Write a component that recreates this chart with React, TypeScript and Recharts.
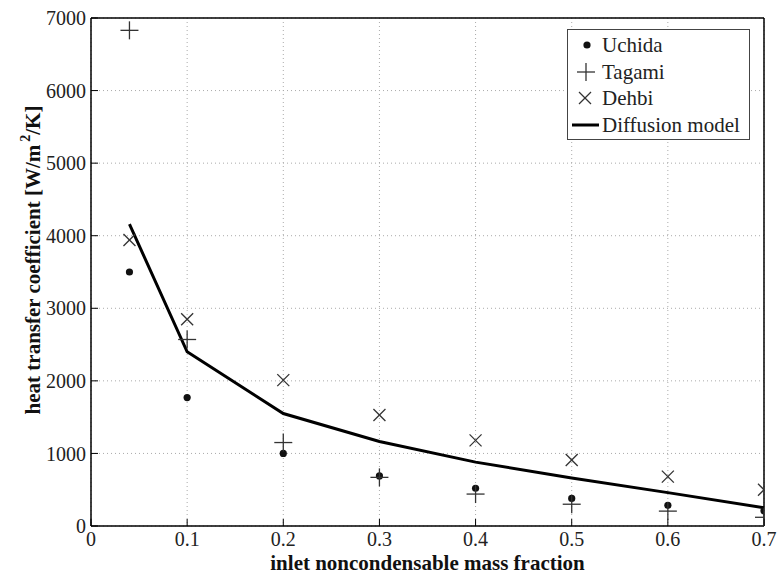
import React from 'react';
import { ScatterChart, Scatter, XAxis, YAxis, CartesianGrid, Legend, Label } from 'recharts';

const xValues = [0.04, 0.1, 0.2, 0.3, 0.4, 0.5, 0.6, 0.7];
const uchidaY = [3500, 1770, 1000, 690, 520, 380, 285, 210];
const tagamiY = [6830, 2570, 1150, 670, 440, 300, 205, 120];
const dehbiY = [3940, 2850, 2010, 1530, 1180, 910, 680, 500];
const modelY = [4160, 2400, 1550, 1165, 880, 660, 460, 250];

const xTicks = [0, 0.1, 0.2, 0.3, 0.4, 0.5, 0.6, 0.7];
const yTicks = [0, 1000, 2000, 3000, 4000, 5000, 6000, 7000];

const seriesNames = ['Uchida', 'Tagami', 'Dehbi', 'Diffusion model'];

const toPoints = (ys: number[]) => xValues.map((x, i) => ({ x, y: ys[i] }));
const uchidaData = toPoints(uchidaY);
const tagamiData = toPoints(tagamiY);
const dehbiData = toPoints(dehbiY);
const modelData = toPoints(modelY);

const FONT = '"Liberation Serif", "Times New Roman", serif';

const Dot = (p: any) => <circle cx={p.cx} cy={p.cy} r={3.6} fill="#111" />;
const Plus = (p: any) => (
  <g stroke="#333" strokeWidth={1.3}>
    <line x1={p.cx - 9} x2={p.cx + 9} y1={p.cy} y2={p.cy} />
    <line x1={p.cx} x2={p.cx} y1={p.cy - 9} y2={p.cy + 9} />
  </g>
);
const Cross = (p: any) => (
  <g stroke="#333" strokeWidth={1.3}>
    <line x1={p.cx - 6} x2={p.cx + 6} y1={p.cy - 6} y2={p.cy + 6} />
    <line x1={p.cx - 6} x2={p.cx + 6} y1={p.cy + 6} y2={p.cy - 6} />
  </g>
);
const Nothing = () => <g />;

const LegendBox = () => {
  const rows = [16, 43, 69, 96];
  return (
    <svg width={184} height={112} style={{ display: 'block', overflow: 'visible' }}>
      <rect x={0.5} y={0.5} width={182} height={110} fill="#fff" stroke="#444" strokeWidth={1} />
      <Dot cx={20} cy={rows[0]} />
      <Plus cx={19} cy={rows[1]} />
      <Cross cx={18} cy={rows[2]} />
      <line x1={5} x2={32} y1={rows[3]} y2={rows[3]} stroke="#000" strokeWidth={3} />
      {seriesNames.map((n, i) => (
        <text key={n} x={35} y={rows[i] + 7} fontFamily={FONT} fontSize={21} fill="#222">
          {n}
        </text>
      ))}
    </svg>
  );
};

const YTitle = (props: any) => {
  const vb = props.viewBox || { x: 0, y: 0, width: 0, height: 0 };
  const cx = 33;
  const cy = vb.y + vb.height / 2 - 12;
  return (
    <text
      transform={`translate(${cx},${cy}) rotate(-90)`}
      textAnchor="middle"
      dominantBaseline="central"
      fontFamily={FONT}
      fontSize={21}
      fontWeight="bold"
      fill="#111"
    >
      heat transfer coefficient [W/m
      <tspan dx={3} dy={-8} fontSize={14}>2</tspan>
      <tspan dy={8}>/K]</tspan>
    </text>
  );
};

const fmt = (v: number) => String(+v.toFixed(1));

export default function App() {
  return (
    <div style={{ width: 779, height: 575, background: '#fff' }}>
      <style>{`body{margin:0;overflow:hidden;background:#fff}`}</style>
      <ScatterChart width={779} height={575} margin={{ top: 0, right: 0, bottom: 0, left: 0 }}>
        <CartesianGrid stroke="#aaa" strokeDasharray="1 3" />
        <XAxis
          xAxisId={0}
          type="number"
          dataKey="x"
          domain={[0, 0.7]}
          ticks={xTicks}
          tickFormatter={fmt}
          height={49}
          tickSize={-7}
          tickMargin={13}
          axisLine={{ stroke: '#000', strokeWidth: 1.5 }}
          tickLine={{ stroke: '#000' }}
          tick={{ fontFamily: FONT, fontSize: 20, fill: '#222' }}
          allowDataOverflow
        >
          <Label
            value="inlet noncondensable mass fraction"
            position="insideBottom"
            offset={5}
            style={{ fontFamily: FONT, fontSize: 21, fontWeight: 'bold', fill: '#111' }}
          />
        </XAxis>
        <XAxis
          xAxisId="top"
          orientation="top"
          type="number"
          dataKey="x"
          domain={[0, 0.7]}
          ticks={xTicks}
          height={18}
          tickSize={-7}
          tick={false}
          axisLine={{ stroke: '#000', strokeWidth: 1.5 }}
          tickLine={{ stroke: '#000' }}
          allowDataOverflow
        />
        <YAxis
          yAxisId={0}
          type="number"
          dataKey="y"
          domain={[0, 7000]}
          ticks={yTicks}
          width={91}
          tickSize={-7}
          tickMargin={12}
          axisLine={{ stroke: '#000', strokeWidth: 1.5 }}
          tickLine={{ stroke: '#000' }}
          tick={{ fontFamily: FONT, fontSize: 20, fill: '#222' }}
          allowDataOverflow
        >
          <Label content={<YTitle />} />
        </YAxis>
        <YAxis
          yAxisId="right"
          orientation="right"
          type="number"
          dataKey="y"
          domain={[0, 7000]}
          ticks={yTicks}
          width={15}
          tickSize={-7}
          tick={false}
          axisLine={{ stroke: '#000', strokeWidth: 1.5 }}
          tickLine={{ stroke: '#000' }}
          allowDataOverflow
        />
        <Scatter
          name="Diffusion model"
          data={modelData}
          line={{ stroke: '#000', strokeWidth: 3 }}
          shape={Nothing}
          isAnimationActive={false}
        />
        <Scatter name="Uchida" data={uchidaData} shape={Dot} isAnimationActive={false} />
        <Scatter name="Tagami" data={tagamiData} shape={Plus} isAnimationActive={false} />
        <Scatter name="Dehbi" data={dehbiData} shape={Cross} isAnimationActive={false} />
        <Legend
          layout="vertical"
          align="center"
          verticalAlign="middle"
          content={<LegendBox />}
          wrapperStyle={{ position: 'absolute', left: 567, top: 29, width: 184, height: 112 }}
        />
      </ScatterChart>
    </div>
  );
}
